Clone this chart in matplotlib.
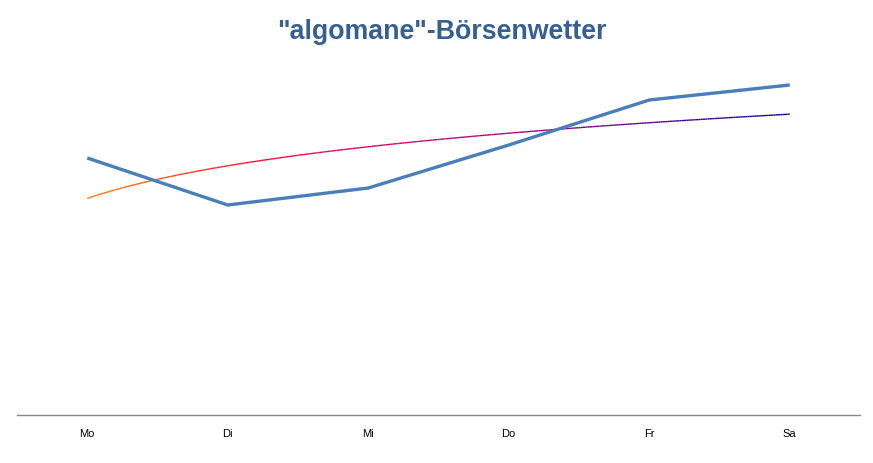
import numpy as np
import matplotlib
matplotlib.use("Agg")
import matplotlib.pyplot as plt
from matplotlib.collections import LineCollection
from matplotlib.colors import LinearSegmentedColormap

categories = ["Mo", "Di", "Mi", "Do", "Fr", "Sa"]
values = [257, 210, 227, 270, 315, 330]

fig = plt.figure(figsize=(8.73, 4.63), dpi=100)
ax = fig.add_axes([17/873, 48/463, 843/873, 355/463])

x = np.arange(1, len(categories) + 1)
ax.plot(x, values, color="#4A7EBB", lw=2.4, solid_capstyle="butt", zorder=3)

# logarithmic trendline fitted to the data
b, a = np.polyfit(np.log(x), values, 1)
xt = np.linspace(1, len(categories), 300)
yt = a + b * np.log(xt)
pts = np.array([xt, yt]).T.reshape(-1, 1, 2)
segs = np.concatenate([pts[:-1], pts[1:]], axis=1)
cmap = LinearSegmentedColormap.from_list("tr", ["#FF7F00", "#FF0033", "#C0007A", "#70008C", "#10008A"])
lc = LineCollection(segs, cmap=cmap, linewidth=1.0, zorder=2)
lc.set_array(np.linspace(0, 1, len(segs)))
ax.add_collection(lc)

ax.set_xlim(0.5, len(categories) + 0.5)
ax.set_ylim(0, 355)
ax.set_xticks(x)
ax.set_xticklabels(categories, fontsize=8, family="Liberation Sans")
ax.tick_params(axis="x", length=0, pad=10)
ax.set_yticks([])
for s in ["top", "right", "left"]:
    ax.spines[s].set_visible(False)
ax.spines["bottom"].set_color("#888888")
ax.spines["bottom"].set_linewidth(1)

fig.text(0.506, 0.931, "\"algomane\"-Börsenwetter", ha="center", va="center",
         fontsize=19.3, fontweight="bold", color="#376092", family="Liberation Sans")

fig.savefig("out.png", dpi=100)
